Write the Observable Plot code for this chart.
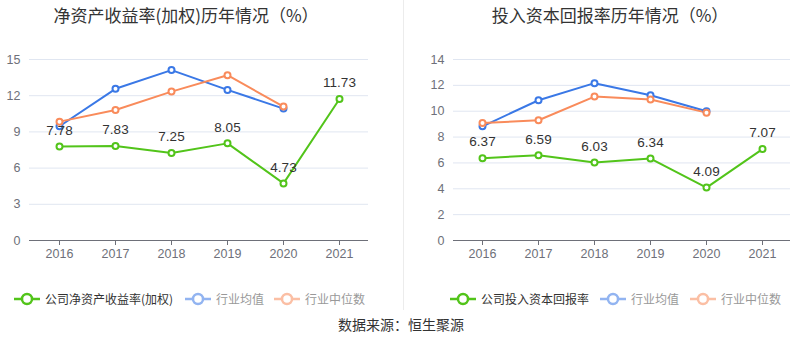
<!DOCTYPE html>
<html><head><meta charset="utf-8">
<script src="https://cdn.jsdelivr.net/npm/d3@7"></script>
<script src="https://cdn.jsdelivr.net/npm/@observablehq/plot@0.6"></script>
<style>
body{margin:0;background:#fff;font-family:"Liberation Sans","Noto Sans CJK SC",sans-serif;}
#wrap{position:relative;width:800px;height:358px;overflow:hidden;}
.abs{position:absolute;}
.title{font-size:17px;color:#333;white-space:nowrap;transform:translateX(-50%);font-family:"Noto Sans CJK SC","Liberation Sans",sans-serif;}
.leg{position:absolute;top:290px;font-size:12px;display:flex;align-items:center;white-space:nowrap;font-family:"Noto Sans CJK SC","Liberation Sans",sans-serif;}
.leg svg{margin-right:5px;}
.src{font-size:14px;color:#333;white-space:nowrap;transform:translateX(-50%);font-family:"Noto Sans CJK SC",sans-serif;}
</style></head>
<body><div id="wrap"></div>
<script>
const years = ["2016","2017","2018","2019","2020","2021"];
const roeCompany = [7.78, 7.83, 7.25, 8.05, 4.73, 11.73];
const roeIndAvg = [9.47, 12.57, 14.12, 12.48, 10.93];
const roeIndMed = [9.85, 10.82, 12.34, 13.70, 11.10];
const roeTicks = [0, 3, 6, 9, 12, 15];
const roicCompany = [6.37, 6.59, 6.03, 6.34, 4.09, 7.07];
const roicIndAvg = [8.83, 10.85, 12.17, 11.24, 10.00];
const roicIndMed = [9.09, 9.30, 11.13, 10.90, 9.89];
const roicTicks = [0, 2, 4, 6, 8, 10, 12, 14];

const GREEN = "#52c41a", BLUE = "#3a78e6", ORANGE = "#f98b5b";
const wrap = document.getElementById("wrap");

function toRows(vals){ return vals.map((v,i)=>({year:years[i], v})); }

function makeChart(company, avg, med, ticks, ymax, ml, mr){
  const c = toRows(company), a = toRows(avg), m = toRows(med);
  return Plot.plot({
    width: 400, height: 270,
    marginTop: 59, marginBottom: 30, marginLeft: ml, marginRight: mr,
    style: {fontFamily: '"Liberation Sans", sans-serif', fontSize: "12px", background: "transparent"},
    x: {type: "point", domain: years, padding: 0.5, label: null},
    y: {domain: [0, ymax], label: null},
    marks: [
      Plot.gridY(ticks, {stroke: "#e0e6f1", strokeOpacity: 1}),
      Plot.axisY(ticks, {tickSize: 0, tickPadding: 9, fill: "#6e7079", fontSize: 12.5}),
      Plot.ruleY([0], {stroke: "#6e7079", strokeWidth: 1}),
      Plot.axisX(years, {tickSize: 5, stroke: "#6e7079", fill: "#6e7079", tickPadding: 4, fontSize: 12.5}),
      Plot.line(a, {x: "year", y: "v", stroke: BLUE, strokeWidth: 2}),
      Plot.line(m, {x: "year", y: "v", stroke: ORANGE, strokeWidth: 2}),
      Plot.line(c, {x: "year", y: "v", stroke: GREEN, strokeWidth: 2}),
      Plot.dot(a, {x: "year", y: "v", r: 3, stroke: BLUE, fill: "#fff", strokeWidth: 2}),
      Plot.dot(m, {x: "year", y: "v", r: 3, stroke: ORANGE, fill: "#fff", strokeWidth: 2}),
      Plot.dot(c, {x: "year", y: "v", r: 3, stroke: GREEN, fill: "#fff", strokeWidth: 2}),
      Plot.text(c, {x: "year", y: "v", text: d => d.v.toFixed(2), dy: -16, fill: "#333", fontSize: 13.5, textAnchor: "middle", lineAnchor: "middle"})
    ]
  });
}

const left = makeChart(roeCompany, roeIndAvg, roeIndMed, roeTicks, 15, 29, 32);
left.style.position = "absolute"; left.style.left = "0px"; left.style.top = "0px";
wrap.appendChild(left);
const right = makeChart(roicCompany, roicIndAvg, roicIndMed, roicTicks, 14, 53, 10);
right.style.position = "absolute"; right.style.left = "400px"; right.style.top = "0px";
wrap.appendChild(right);

// divider
const div = document.createElement("div");
div.className = "abs";
Object.assign(div.style, {left: "403px", top: "0px", width: "1px", height: "310px", background: "#ececec"});
wrap.appendChild(div);

function addText(cls, text, x, y){
  const e = document.createElement("div");
  e.className = "abs " + cls; e.textContent = text;
  e.style.left = x + "px"; e.style.top = y + "px";
  wrap.appendChild(e);
}
addText("title", "净资产收益率(加权)历年情况（%）", 186, 2);
addText("title", "投入资本回报率历年情况（%）", 610, 2);
addText("src", "数据来源：恒生聚源", 401, 314);

function icon(color){
  return `<svg width="26" height="14"><line x1="0" y1="7" x2="26" y2="7" stroke="${color}" stroke-width="2.5"/><circle cx="13" cy="7" r="5" fill="#fff" stroke="${color}" stroke-width="2.5"/></svg>`;
}
function addLegend(x, color, label, textColor, opacity){
  const e = document.createElement("div");
  e.className = "leg";
  e.style.left = x + "px";
  e.innerHTML = `<span style="display:flex;opacity:${opacity}">${icon(color)}</span><span style="color:${textColor}">${label}</span>`;
  wrap.appendChild(e);
}
addLegend(14, GREEN, "公司净资产收益率(加权)", "#333", 1);
addLegend(185, BLUE, "行业均值", "#999", 0.55);
addLegend(274, ORANGE, "行业中位数", "#999", 0.55);
addLegend(450, GREEN, "公司投入资本回报率", "#333", 1);
addLegend(600, BLUE, "行业均值", "#999", 0.55);
addLegend(690, ORANGE, "行业中位数", "#999", 0.55);
</script></body></html>
